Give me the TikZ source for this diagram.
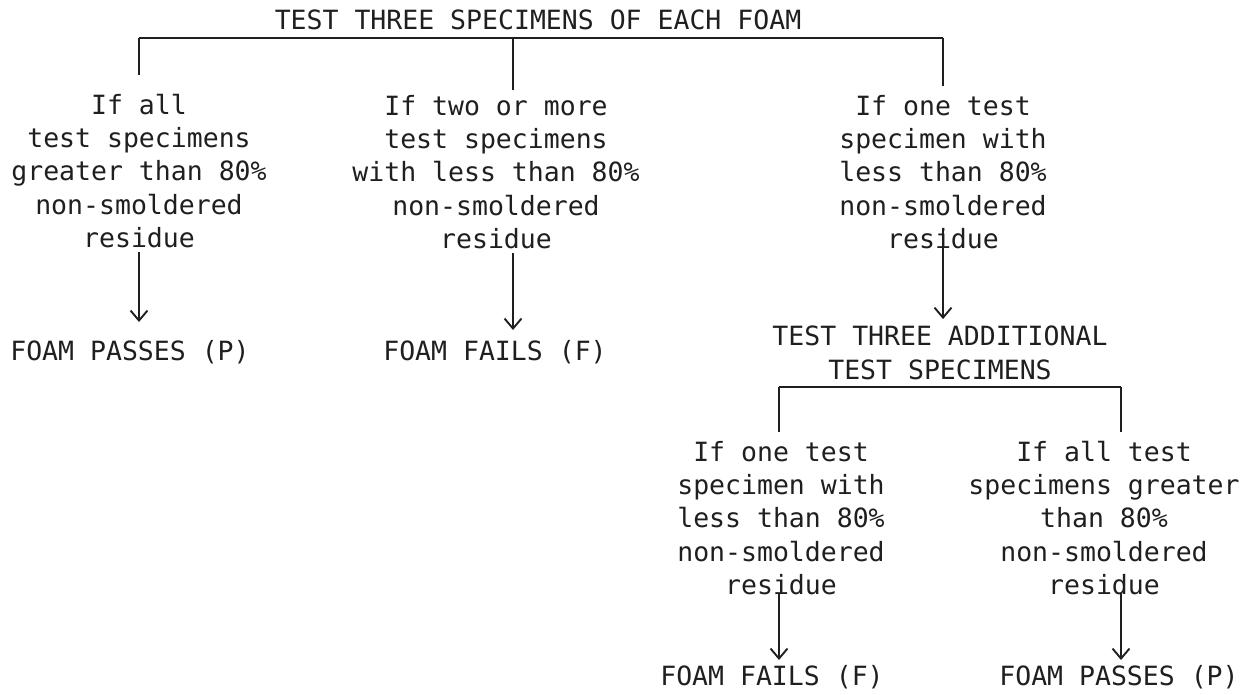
\documentclass[tikz,border=0pt]{standalone}
\usepackage{fontspec}
\newfontfamily\typewriter{DejaVu Sans Mono}
\usepackage{tikz}
\usetikzlibrary{positioning, calc, arrows.meta}
\definecolor{ink}{gray}{0.12}
\tikzstyle{Arrow} = [
    draw = ink,
    line width = 1.9pt,
    -{Straight Barb[length=10pt, width=17pt, line width=1.9pt]}
]

\begin{document}
\begin{tikzpicture}[
x = 1pt, y = -1pt,
label/.style = {
    text = ink,
    inner sep = 0pt,
    align = center,
    font = \typewriter\fontsize{26.5}{33.4}\selectfont
    },
bracket/.style = {
    draw = ink,
    line width = 1.9pt
    }
]
\useasboundingbox (0,0) rectangle (1256,694);

% first test
\node [label] (title) at (538,20) {TEST THREE SPECIMENS OF EACH FOAM};
\coordinate (d1) at (139,38);
\coordinate (d2) at (513,38);
\coordinate (d3) at (943,38);

\node [label] (b1) at (139,171) {If all\\test specimens\\greater than 80\%\\non-smoldered\\residue};
\node [label] (b2) at (496,172) {If two or more\\test specimens\\with less than 80\%\\non-smoldered\\residue};
\node [label] (b3) at (943,172) {If one test\\specimen with\\less than 80\%\\non-smoldered\\residue};

\node [label] (r1) at (130,352) {FOAM PASSES (P)};
\node [label] (r2) at (495,352) {FOAM FAILS (F)};
\node [label] (retest) at (940,353) {TEST THREE ADDITIONAL\\TEST SPECIMENS};

\draw [bracket] (d1) -- (d3);
\draw [bracket] (d1) -- ($(d1)+(0,37)$);
\draw [bracket] (d2) -- ($(d2)+(0,52)$);
\draw [bracket] (d3) -- ($(d3)+(0,48)$);

\draw [Arrow, shorten <= 4pt, shorten >= 18pt] (b1.south -| d1) -- (r1.north -| d1);
\draw [Arrow, shorten <= 4pt, shorten >= 10pt] (b2.south -| d2) -- (r2.north -| d2);
\draw [Arrow, shorten <= -20pt, shorten >= 7pt] (b3.south -| d3) -- (retest.north -| d3);

% second test
\coordinate (d4) at (779,387);
\coordinate (d5) at (1121,387);

\node [label] (b4) at (781,518) {If one test\\specimen with\\less than 80\%\\non-smoldered\\residue};
\node [label] (b5) at (1104,518) {If all test\\specimens greater\\than 80\%\\non-smoldered\\residue};

\node [label] (r4) at (772,677) {FOAM FAILS (F)};
\node [label] (r5) at (1119,677) {FOAM PASSES (P)};

\draw [bracket] (d4) -- (d5);
\draw [bracket] (d4) -- ($(d4)+(0,45)$);
\draw [bracket] (d5) -- ($(d5)+(0,45)$);

\draw [Arrow, shorten <= -2pt, shorten >= 5pt] (b4.south -| d4) -- (r4.north -| d4);
\draw [Arrow, shorten <= -2pt, shorten >= 5pt] (b5.south -| d5) -- (r5.north -| d5);

\end{tikzpicture}
\end{document}
